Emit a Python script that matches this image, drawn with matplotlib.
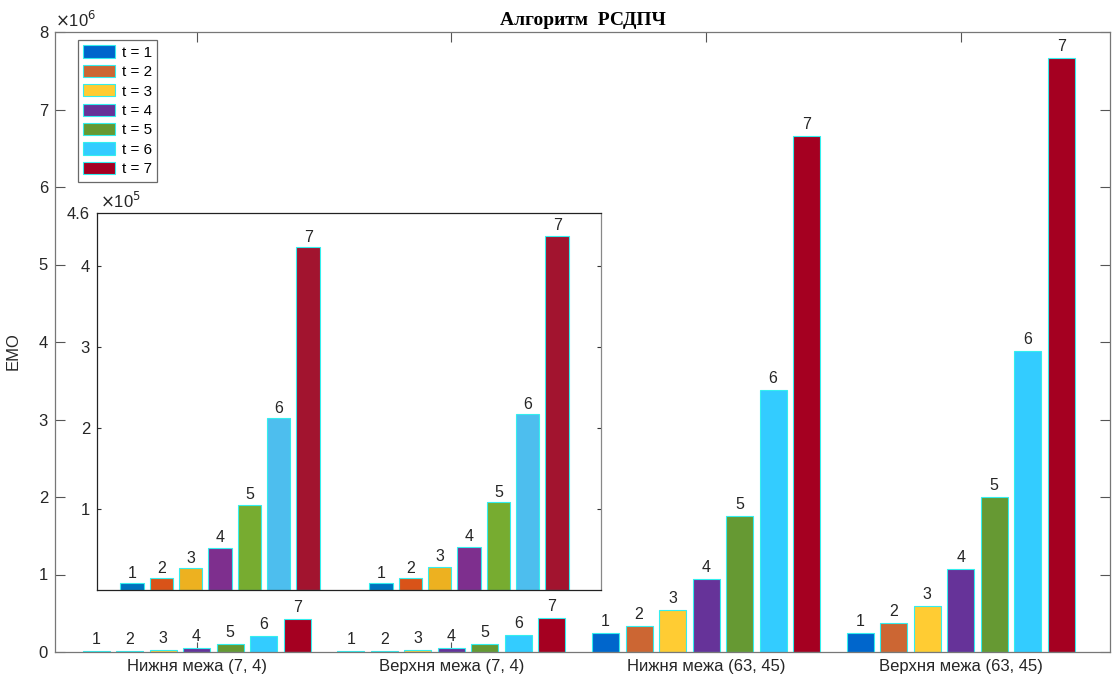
import numpy as np
import matplotlib
matplotlib.use('Agg')
import matplotlib.pyplot as plt
from matplotlib.patches import Patch

plt.rcParams['font.family'] = ['Liberation Sans', 'DejaVu Sans']

# дані
groups = ['Нижня межа (7, 4)', 'Верхня межа (7, 4)',
          'Нижня межа (63, 45)', 'Верхня межа (63, 45)']
t_labels = ['t = 1', 't = 2', 't = 3', 't = 4', 't = 5', 't = 6', 't = 7']
t1 = [0.083e5, 0.083e5, 0.249e6, 0.249e6]
t2 = [0.144e5, 0.144e5, 0.340e6, 0.370e6]
t3 = [0.268e5, 0.288e5, 0.540e6, 0.590e6]
t4 = [0.520e5, 0.535e5, 0.940e6, 1.070e6]
t5 = [1.050e5, 1.080e5, 1.755e6, 2.000e6]
t6 = [2.120e5, 2.170e5, 3.380e6, 3.890e6]
t7 = [4.230e5, 4.370e5, 6.660e6, 7.670e6]
series = [t1, t2, t3, t4, t5, t6, t7]

main_colors = ['#0066cc', '#cc6633', '#ffcc33', '#663399', '#669933', '#33ccff', '#a50021']
inset_colors = ['#0072bd', '#d95319', '#edb120', '#7e2f8e', '#77ac30', '#4dbeee', '#a2142f']
edge = '#33eeee'
txt = '#262626'

W, H = 1112, 679
fig = plt.figure(figsize=(W / 100, H / 100), dpi=100)

# головні осі
L, R, T, B = 55, 1110, 32, 652
ax = fig.add_axes([L / W, 1 - B / H, (R - L) / W, (B - T) / H])
x = np.arange(1, len(groups) + 1)
pitch, width = 0.1315, 0.106
for i, vals in enumerate(series):
    pos = x + (i - 3) * pitch
    ax.bar(pos, vals, width, color=main_colors[i], edgecolor=edge, linewidth=0.8, zorder=2)
    for p, v in zip(pos, vals):
        ax.text(p, v + 0.05e6, str(i + 1), ha='center', va='bottom', fontsize=11.5, color=txt)
ax.set_xlim(0.444, 4.586)
ax.set_ylim(0, 8e6)
ax.set_xticks(x)
ax.set_xticklabels(groups, fontsize=12, color=txt)
ax.set_yticks(np.arange(0, 9) * 1e6)
ax.set_yticklabels([str(k) for k in range(9)], fontsize=12, color=txt)
ax.tick_params(axis='both', direction='in', length=7, width=0.8, color='#555555',
               top=True, right=True, pad=5)
for s in ax.spines.values():
    s.set_color('#777777')
    s.set_linewidth(0.9)
ax.text(0, 1.004, r'$\times$10$^{6}$', transform=ax.transAxes, fontsize=12,
        color=txt, ha='left', va='bottom')
ax.set_ylabel('ЕМО', fontsize=12, color=txt)
ax.yaxis.set_label_coords(-0.033, 0.485)
ax.set_title('Алгоритм  РСДПЧ', fontsize=14, fontweight='bold',
             family='Liberation Serif', pad=5)

handles = [Patch(facecolor=c, edgecolor=edge, linewidth=0.8) for c in main_colors]
leg = ax.legend(handles, t_labels, loc='upper left',
                bbox_to_anchor=(23 / (R - L), 1 - 8 / (B - T)), borderaxespad=0,
                fontsize=11, frameon=True, fancybox=False, edgecolor='#444444',
                handlelength=2.1, handleheight=0.85, labelspacing=0.33,
                handletextpad=0.4, borderpad=0.35)
leg.get_frame().set_linewidth(0.9)

# вкладка
iL, iR, iT, iB = 97, 601, 213, 590
ins = fig.add_axes([iL / W, 1 - iB / H, (iR - iL) / W, (iB - iT) / H])
xi = np.arange(1, 3)
ipitch, iwidth = 0.118, 0.094
for i, vals in enumerate(series):
    pos = xi + (i - 3) * ipitch
    ins.bar(pos, vals[:2], iwidth, color=inset_colors[i], edgecolor=edge, linewidth=0.8, zorder=2)
    for p, v in zip(pos, vals[:2]):
        ins.text(p, v + 0.03e5, str(i + 1), ha='center', va='bottom', fontsize=11.5, color=txt)
ins.set_xlim(0.506, 2.53)
ins.set_ylim(0, 4.65e5)
ins.set_xticks(xi)
ins.set_xticklabels([])
ins.set_yticks([1e5, 2e5, 3e5, 4e5, 4.65e5])
ins.set_yticklabels(['1', '2', '3', '4', '4.6'], fontsize=12, color=txt)
ins.tick_params(axis='both', direction='in', length=3, width=0.8, color='#333333',
                right=True, pad=5)
ins.yaxis.get_major_ticks()[-1].tick1line.set_visible(False)
ins.yaxis.get_major_ticks()[-1].tick2line.set_visible(False)
for k, s in ins.spines.items():
    s.set_color('#222222' if k != 'right' else '#888888')
    s.set_linewidth(0.9)
ins.text(0.005, 1.004, r'$\times$10$^{5}$', transform=ins.transAxes, fontsize=12,
         color=txt, ha='left', va='bottom')

fig.savefig('out.png', dpi=100)
